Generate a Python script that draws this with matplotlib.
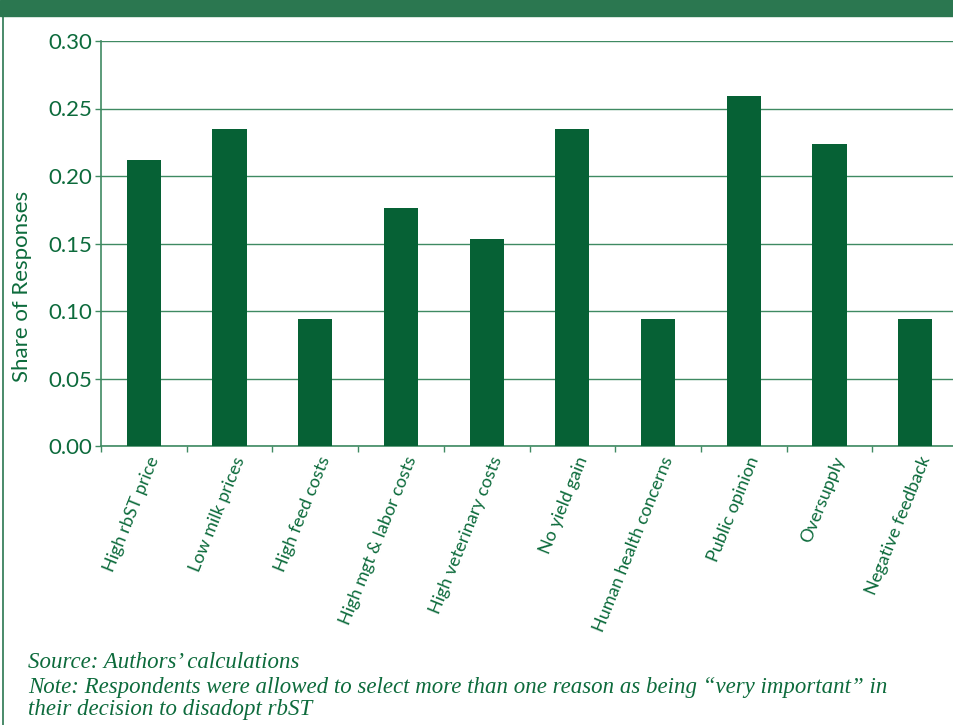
import matplotlib.pyplot as plt
import numpy as np

# data
reasons = ['High rbST price', 'Low milk prices', 'High feed costs',
           'High mgt & labor costs', 'High veterinary costs', 'No yield gain',
           'Human health concerns', 'Public opinion', 'Oversupply',
           'Negative feedback']
share = [0.212, 0.235, 0.094, 0.176, 0.153, 0.235, 0.094, 0.259, 0.224, 0.094]
yticks = [0.00, 0.05, 0.10, 0.15, 0.20, 0.25, 0.30]

bar_col = '#066135'
txt_col = '#0d6b3c'
line_col = '#3f8a62'
head_col = '#2b7750'

W, H = 954, 725
fig = plt.figure(figsize=(W / 100, H / 100), dpi=100)

# header band and left frame line
fig.patches.append(plt.Rectangle((0, 1 - 16 / H), 1, 16 / H, transform=fig.transFigure,
                                 color=head_col, zorder=0))
fig.lines.append(plt.Line2D([3.5 / W, 3.5 / W], [0, 1 - 16 / H], transform=fig.transFigure,
                            color=head_col, lw=1.2))

ax = fig.add_axes([101 / W, 1 - 446 / H, 857 / W, 405 / H])
x = np.arange(len(reasons))
ax.bar(x, share, width=0.4, color=bar_col, zorder=3)

ax.set_xlim(-0.5, len(reasons) - 0.5)
ax.set_ylim(0, 0.30)
ax.set_yticks(yticks)
ax.set_yticklabels(['%.2f' % v for v in yticks], fontsize=16, color=txt_col,
                   family='Lato')
ax.yaxis.grid(True, color=line_col, lw=1.0, zorder=0)
ax.set_axisbelow(True)

ax.set_xticks(np.arange(len(reasons) + 1) - 0.5)
ax.set_xticklabels([])
ax.tick_params(axis='x', length=4, color=line_col, width=1)
ax.tick_params(axis='y', length=4, color=line_col, width=1, pad=2)

for i, lab in enumerate(reasons):
    ax.text(i + 0.04, -0.006, lab, rotation=68, ha='right', va='top',
            rotation_mode='anchor', fontsize=13, color=txt_col, family='Lato')

for s in ['top', 'right']:
    ax.spines[s].set_visible(False)
for s in ['left', 'bottom']:
    ax.spines[s].set_color(line_col)
    ax.spines[s].set_linewidth(1.2)

fig.text(22 / W, 1 - 286 / H, 'Share of Responses', rotation=90, ha='center', va='center',
         fontsize=16, color=txt_col, family='Lato')

foot = dict(fontsize=16.5, color=txt_col, family='Liberation Serif', style='italic',
            ha='left', va='center')
fig.text(28 / W, 1 - 662 / H, 'Source: Authors\u2019 calculations', **foot)
fig.text(28 / W, 1 - 688 / H, 'Note: Respondents were allowed to select more than one reason '
         'as being \u201cvery important\u201d in', **foot)
fig.text(28 / W, 1 - 710 / H, 'their decision to disadopt rbST', **foot)

fig.savefig('out.png', dpi=100)
